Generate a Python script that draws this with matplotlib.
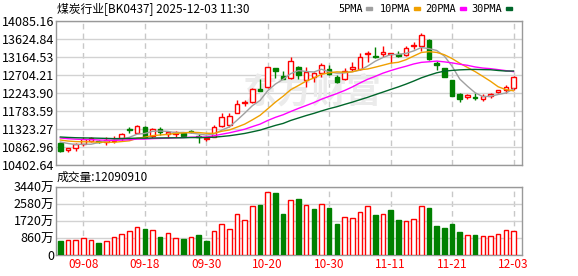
import numpy as np
import pandas as pd
import matplotlib
matplotlib.use("Agg")
import matplotlib.pyplot as plt
from matplotlib.patches import Rectangle

plt.rcParams['font.family'] = ['Noto Sans CJK SC', 'DejaVu Sans']

title = "煤炭行业[BK0437] 2025-12-03 11:30"

dates = ["09-03", "09-04", "09-05", "09-08", "09-09", "09-10", "09-11", "09-12",
         "09-15", "09-16", "09-17", "09-18", "09-19", "09-22", "09-23", "09-24",
         "09-25", "09-26", "09-29", "09-30", "10-09", "10-10", "10-13", "10-14",
         "10-15", "10-16", "10-17", "10-20", "10-21", "10-22", "10-23", "10-24",
         "10-27", "10-28", "10-29", "10-30", "10-31", "11-03", "11-04", "11-05",
         "11-06", "11-07", "11-10", "11-11", "11-12", "11-13", "11-14", "11-17",
         "11-18", "11-19", "11-20", "11-21", "11-24", "11-25", "11-26", "11-27",
         "11-28", "12-01", "12-02", "12-03"]
label_dates = ["09-08", "09-18", "09-30", "10-20", "10-30", "11-11", "11-21", "12-03"]

# closes before 09-03 (only needed for the moving averages)
earlier_closes = [11144, 11170, 11195, 11170, 11144, 11170, 11195, 11170, 11170, 11170,
                  11195, 11170, 11195, 11170, 11183, 11119, 11093, 11119, 11093, 11106,
                  11093, 11068, 11119, 11093, 11093, 11016, 11068, 11016, 11093]

opens = [10957.6, 10786.3, 10845.1, 10939.7, 11016.4, 11016.4, 10990.9, 11016.4, 11093.2, 11323.3,
         11228.7, 11374.5, 11144.3, 11315.6, 11182.7, 11187.8, 11213.4, 11272.1, 11144.3, 11054.8,
         11126.4, 11400.0, 11417.9, 11740.2, 11993.3, 12001.0, 12338.6, 12389.7, 12875.6, 12678.7,
         12619.9, 12901.2, 12576.4, 12660.8, 12747.7, 12850.0, 12645.4, 12594.3, 12850.0, 12850.0,
         13233.6, 13190.1, 13233.6, 13241.3, 13233.6, 13215.7, 13445.8, 13453.5, 13599.3, 13003.5,
         12875.6, 12576.4, 12218.4, 12134.0, 12149.3, 12098.2, 12167.2, 12269.5, 12320.7, 12364.1]
highs = [10978.1, 10829.8, 10965.3, 11118.7, 11106.0, 11029.2, 11118.7, 11131.5, 11208.2, 11361.7,
         11433.3, 11400.0, 11356.6, 11379.6, 11238.9, 11277.3, 11246.6, 11285.0, 11195.4, 11149.4,
         11425.6, 11719.7, 11724.8, 12064.9, 12064.9, 12359.0, 12594.3, 12916.5, 12875.6, 12806.5,
         13172.2, 12934.4, 12916.5, 12788.7, 13018.8, 12960.0, 12704.2, 12890.9, 13044.4, 13259.2,
         13325.7, 13412.6, 13445.8, 13261.7, 13325.7, 13445.8, 13555.8, 13786.0, 13612.1, 13070.0,
         12890.9, 12576.4, 12251.6, 12218.4, 12236.3, 12218.4, 12251.6, 12320.7, 12440.9, 12678.7]
lows = [10735.1, 10727.5, 10768.4, 10875.8, 10978.1, 10965.3, 10914.1, 10957.6, 11024.1, 11213.4,
        11213.4, 11085.5, 11100.8, 11169.9, 11080.4, 11118.7, 11111.1, 11221.0, 10957.6, 11024.1,
        11111.1, 11374.5, 11382.1, 11719.7, 11898.7, 11988.2, 12295.1, 12364.1, 12614.8, 12594.3,
        12602.0, 12594.3, 12405.1, 12532.9, 12645.4, 12704.2, 12507.3, 12576.4, 12814.2, 12832.1,
        13044.4, 13131.3, 13172.2, 13003.5, 13156.9, 13190.1, 13381.9, 13325.7, 13087.8, 12832.1,
        12660.8, 12174.9, 12021.5, 12090.5, 12064.9, 12047.0, 12108.4, 12251.6, 12251.6, 12320.7]
closes = [10760.7, 10829.8, 10926.9, 11067.6, 11080.4, 10990.9, 11029.2, 11042.0, 11203.1, 11285.0,
          11400.0, 11111.1, 11323.3, 11233.8, 11238.9, 11246.6, 11144.3, 11233.8, 11111.1, 11103.4,
          11382.1, 11630.2, 11655.8, 11962.6, 12008.7, 12338.6, 12302.8, 12901.2, 12814.2, 12607.1,
          13070.0, 12691.5, 12788.7, 12747.7, 12960.0, 12729.8, 12532.9, 12814.2, 12901.2, 13156.9,
          13254.1, 13156.9, 13292.4, 13261.7, 13190.1, 13387.1, 13471.4, 13727.2, 13113.4, 12960.0,
          12660.8, 12174.9, 12090.5, 12200.5, 12123.8, 12167.2, 12218.4, 12320.7, 12389.7, 12645.4]
# volume in 万
volumes = [722, 755, 755, 839, 755, 604, 705, 889, 1057, 1208,
           1393, 1309, 1242, 906, 1091, 839, 805, 889, 1007, 705,
           1191, 1561, 1292, 2098, 1795, 2500, 2517, 3205, 3121, 2064,
           2802, 2819, 2517, 2316, 2601, 2366, 1561, 1930, 1896, 2198,
           2500, 2014, 2098, 2265, 1762, 1695, 1846, 2500, 2366, 1460,
           1359, 1561, 1158, 990, 990, 940, 940, 1040, 1242, 1209.091]

ma_periods = [5, 10, 20, 30]
ma_names = ["5PMA", "10PMA", "20PMA", "30PMA"]
price_ticks = [10402.64, 10862.96, 11323.27, 11783.59, 12243.90,
               12704.21, 13164.53, 13624.84, 14085.16]
vol_ticks = [0, 860, 1720, 2580, 3440]

UP = "#ff0000"
DOWN = "#008000"
ma_colors = ["#a0a0a0", "#f0a000", "#ff00ff", "#00662a"]
GRID = "#d2d2d2"
SPINE = "#999999"

n = len(closes)
x = np.arange(n)
o = np.array(opens)
h = np.array(highs)
l = np.array(lows)
c = np.array(closes)
v = np.array(volumes)

all_close = pd.Series(earlier_closes + closes)
mas = [all_close.rolling(p).mean().iloc[len(earlier_closes):].values for p in ma_periods]

W, H = 578, 276
fig = plt.figure(figsize=(W / 100, H / 100), dpi=100)
ax = fig.add_axes([56 / W, 1 - 165 / H, 466 / W, 144 / H])
axv = fig.add_axes([56 / W, 1 - 255 / H, 466 / W, 68 / H])

label_idx = [dates.index(d) for d in label_dates]

for a in (ax, axv):
    a.set_xlim(-0.56, n + 0.1)
    for s in a.spines.values():
        s.set_color(SPINE)
        s.set_linewidth(1)
    for i in label_idx:
        a.axvline(i, color="#c8c8c8", lw=1, ls=(0, (4, 3)), zorder=0)
    a.tick_params(length=0, labelsize=9, pad=1.5)

# ---- price panel
ax.set_ylim(price_ticks[0], price_ticks[-1])
for t in price_ticks:
    ax.axhline(t, color=GRID, lw=1, zorder=0)
ax.set_yticks(price_ticks)
ax.set_yticklabels([f"{t:.2f}" for t in price_ticks])
ax.set_xticks([])

# watermark
ax.text(0.55, 0.51, "东方财富", transform=ax.transAxes, fontsize=25,
        fontweight="bold", style="italic", color="#ebebeb", ha="center",
        va="center", zorder=0)

up = c >= o
bw = 0.6
ax.vlines(x, l, h, colors=np.where(up, UP, DOWN), lw=1, zorder=2)
ax.bar(x[up], (c - o)[up], bottom=o[up], width=bw, facecolor="white",
       edgecolor=UP, lw=1, zorder=3)
ax.bar(x[~up], (o - c)[~up], bottom=c[~up], width=bw, facecolor=DOWN,
       edgecolor=DOWN, lw=1, zorder=3)

for ma, col in zip(mas, ma_colors):
    ax.plot(x, ma, color=col, lw=1, zorder=4)

# ---- volume panel
prev_close = np.array([earlier_closes[-1]] + closes[:-1])
vup = c >= prev_close
axv.set_ylim(vol_ticks[0], vol_ticks[-1])
for t in vol_ticks:
    axv.axhline(t, color=GRID, lw=1, zorder=0)
axv.bar(x[vup], v[vup], width=bw, facecolor="white", edgecolor=UP, lw=1, zorder=3)
axv.bar(x[~vup], v[~vup], width=bw, facecolor=DOWN, edgecolor=DOWN, lw=1, zorder=3)
axv.set_yticks(vol_ticks)
axv.set_yticklabels([f"{t}万" if t else "0" for t in vol_ticks])
axv.set_xticks(label_idx)
axv.set_xticklabels(label_dates, color=UP, fontsize=8.5)
axv.tick_params(axis="x", pad=2)

# ---- texts
fig.text(57 / W, 1 - 8.5 / H, title, fontsize=8.5, va="center", ha="left")
fig.text(57 / W, 1 - 177 / H, f"成交量:{int(round(volumes[-1] * 10000))}",
         fontsize=8.5, va="center", ha="left")

# legend: name followed by a small colour swatch
renderer = fig.canvas.get_renderer()
legend_x = [338, 380, 425.5, 471.5]
for name, col, lx in zip(ma_names, ma_colors, legend_x):
    t = fig.text(lx / W, 1 - 8.7 / H, name, fontsize=7.4, family="DejaVu Sans Mono",
                 va="center", ha="left")
    right = t.get_window_extent(renderer).x1
    fig.add_artist(Rectangle(((right + 3.5) / W, 1 - 10.2 / H), 6 / W, 3 / H,
                             transform=fig.transFigure, color=col))

fig.savefig("out.png", dpi=100)
